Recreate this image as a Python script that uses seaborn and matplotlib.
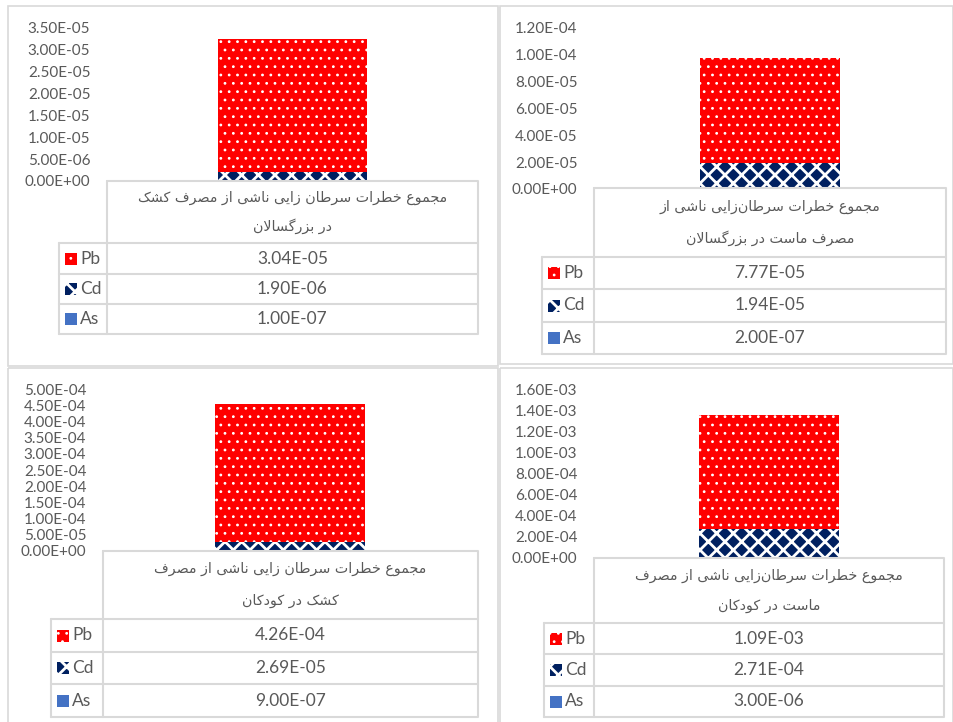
import numpy as np
import pandas as pd
import matplotlib
matplotlib.use("Agg")
import matplotlib.pyplot as plt
from matplotlib.patches import Rectangle
import seaborn as sns

# values (adults/children, kashk/yogurt)
metals = ["Pb", "Cd", "As"]
pb_risk = [3.04e-5, 7.77e-5, 4.26e-4, 1.09e-3]
cd_risk = [1.90e-6, 1.94e-5, 2.69e-5, 2.71e-4]
as_risk = [1.00e-7, 2.00e-7, 9.00e-7, 3.00e-6]
y_max = [3.5e-5, 1.2e-4, 5e-4, 1.6e-3]
y_step = [5e-6, 2e-5, 5e-5, 2e-4]
titles = [
    ["مجموع خطرات سرطان زایی ناشی از مصرف کشک", "در بزرگسالان"],
    ["مجموع خطرات سرطان\u200cزایی ناشی از", "مصرف ماست در بزرگسالان"],
    ["مجموع خطرات سرطان زایی ناشی از مصرف", "کشک در کودکان"],
    ["مجموع خطرات سرطان\u200cزایی ناشی از مصرف", "ماست در کودکان"],
]

sns.set_style("white")
plt.rcParams["font.family"] = ["Lato", "DejaVu Sans"]

RED = "#FF0000"
NAVY = "#002060"
BLUE = "#4472C4"
GRID = "#D9D9D9"
TXT = "#595959"

# arabic letters -> (isolated, final, initial, medial); matplotlib does no shaping
FORMS = {
    "ا": ("\uFE8D", "\uFE8E", None, None),
    "ب": ("\uFE8F", "\uFE90", "\uFE91", "\uFE92"),
    "ت": ("\uFE95", "\uFE96", "\uFE97", "\uFE98"),
    "ج": ("\uFE9D", "\uFE9E", "\uFE9F", "\uFEA0"),
    "خ": ("\uFEA5", "\uFEA6", "\uFEA7", "\uFEA8"),
    "د": ("\uFEA9", "\uFEAA", None, None),
    "ر": ("\uFEAD", "\uFEAE", None, None),
    "ز": ("\uFEAF", "\uFEB0", None, None),
    "س": ("\uFEB1", "\uFEB2", "\uFEB3", "\uFEB4"),
    "ش": ("\uFEB5", "\uFEB6", "\uFEB7", "\uFEB8"),
    "ص": ("\uFEB9", "\uFEBA", "\uFEBB", "\uFEBC"),
    "ط": ("\uFEC1", "\uFEC2", "\uFEC3", "\uFEC4"),
    "ع": ("\uFEC9", "\uFECA", "\uFECB", "\uFECC"),
    "ف": ("\uFED1", "\uFED2", "\uFED3", "\uFED4"),
    "ل": ("\uFEDD", "\uFEDE", "\uFEDF", "\uFEE0"),
    "م": ("\uFEE1", "\uFEE2", "\uFEE3", "\uFEE4"),
    "ن": ("\uFEE5", "\uFEE6", "\uFEE7", "\uFEE8"),
    "و": ("\uFEED", "\uFEEE", None, None),
    "ک": ("\uFB8E", "\uFB8F", "\uFB90", "\uFB91"),
    "گ": ("\uFB92", "\uFB93", "\uFB94", "\uFB95"),
    "ی": ("\uFBFC", "\uFBFD", "\uFBFE", "\uFBFF"),
}


def joins_forward(ch):
    return ch in FORMS and FORMS[ch][2] is not None


def shape(text):
    out = []
    i = 0
    n = len(text)
    while i < n:
        ch = text[i]
        if ch not in FORMS:
            if ch != "\u200c":
                out.append(ch)
            i += 1
            continue
        link_prev = i > 0 and joins_forward(text[i - 1])
        if ch == "ل" and i + 1 < n and text[i + 1] == "ا":
            out.append("\uFEFC" if link_prev else "\uFEFB")
            i += 2
            continue
        link_next = joins_forward(ch) and i + 1 < n and text[i + 1] in FORMS
        iso, fin, ini, med = FORMS[ch]
        if link_prev and link_next:
            out.append(med)
        elif link_prev:
            out.append(fin)
        elif link_next:
            out.append(ini)
        else:
            out.append(iso)
        i += 1
    return "".join(reversed(out))


W, H = 954, 722
fig = plt.figure(figsize=(W / 100, H / 100), dpi=100)

# pixel layout of each panel: border box, table x-range, table row edges, legend col left,
# y pixel of zero and of y_max
panels = [
    dict(box=(8, 6, 498, 366), tx=(107, 478), rows=(181, 243, 274, 304, 334), leg=59, y0=181, y1=27.7),
    dict(box=(500, 6, 953, 364), tx=(594, 946), rows=(188, 257, 289, 322, 354), leg=542, y0=189, y1=27.7),
    dict(box=(8, 368, 498, 730), tx=(103, 478), rows=(551, 619, 652, 684, 717), leg=51, y0=550.7, y1=389.3),
    dict(box=(500, 368, 953, 730), tx=(594, 944), rows=(558, 623, 654, 686, 717), leg=544, y0=557.7, y1=390),
]

over = fig.add_axes([0, 0, 1, 1], zorder=5)
over.set_xlim(0, W)
over.set_ylim(H, 0)
over.axis("off")

styles = {
    "Pb": dict(color=RED, hatch="..", hlw=0.8),
    "Cd": dict(color=NAVY, hatch="xx", hlw=2.0),
    "As": dict(color=BLUE, hatch=None, hlw=1.0),
}


def style_bars(container, hlw):
    for p in container:
        if hasattr(p, "set_hatch_linewidth"):
            p.set_hatch_linewidth(hlw)


for k, pan in enumerate(panels):
    x0, x1 = pan["tx"]
    ax = fig.add_axes([x0 / W, 1 - pan["y0"] / H, (x1 - x0) / W, (pan["y0"] - pan["y1"]) / H])

    df = pd.DataFrame({"cat": ["total"], "As": [as_risk[k]], "Cd": [cd_risk[k]], "Pb": [pb_risk[k]]})
    bottom = 0.0
    for m in ["As", "Cd", "Pb"]:
        st = styles[m]
        sns.barplot(data=df, x="cat", y=m, color=st["color"], saturation=1, width=0.4,
                    errorbar=None, bottom=bottom, hatch=st["hatch"], edgecolor="white",
                    linewidth=0, ax=ax)
        style_bars(ax.containers[-1], st["hlw"])
        bottom += df[m].iloc[0]

    ax.set_xlim(-0.5, 0.5)
    ax.set_ylim(0, y_max[k])
    ticks = np.arange(0, y_max[k] + y_step[k] / 2, y_step[k])
    ax.set_yticks(ticks)
    ax.set_yticklabels([f"{t:.2E}" for t in ticks])
    ax.set_xticks([])
    ax.set_xlabel("")
    ax.set_ylabel("")
    ax.tick_params(axis="y", length=0, pad=12, labelsize=11, labelcolor=TXT)
    sns.despine(ax=ax, left=True, bottom=True)
    ax.patch.set_alpha(0)

    # panel frame
    bx0, by0, bx1, by1 = pan["box"]
    over.add_patch(Rectangle((bx0, by0), bx1 - bx0, by1 - by0, fill=False, ec=GRID, lw=1.2))

    # data table
    r = pan["rows"]
    leg = pan["leg"]
    lw = 1.5
    over.plot([x0, x1, x1, x0, x0], [r[0], r[0], r[-1], r[-1], r[0]], color=GRID, lw=lw)
    for yy in r[1:-1]:
        over.plot([leg, x1], [yy, yy], color=GRID, lw=lw)
    over.plot([leg, leg], [r[1], r[-1]], color=GRID, lw=lw)
    over.plot([leg, x0], [r[-1], r[-1]], color=GRID, lw=lw)

    xc = (x0 + x1) / 2
    hh = r[1] - r[0]
    for j, line in enumerate(titles[k]):
        over.text(xc, r[0] + hh * (0.27 + 0.46 * j), shape(line), ha="center", va="center",
                  fontsize=10.3, color=TXT, family=["DejaVu Sans"])

    values = [pb_risk[k], cd_risk[k], as_risk[k]]
    for j, m in enumerate(metals):
        ya, yb = r[j + 1], r[j + 2]
        ym = (ya + yb) / 2
        over.text(xc, ym, f"{values[j]:.2E}", ha="center", va="center", fontsize=12.5, color=TXT)
        st = styles[m]
        key = Rectangle((leg + 6, ym - 6), 12, 12, fc=st["color"], hatch=st["hatch"],
                        ec="white", lw=0)
        if hasattr(key, "set_hatch_linewidth"):
            key.set_hatch_linewidth(st["hlw"])
        over.add_patch(key)
        over.text(leg + 21, ym, m, ha="left", va="center", fontsize=12.5, color=TXT)

fig.savefig("out.png", dpi=100)
